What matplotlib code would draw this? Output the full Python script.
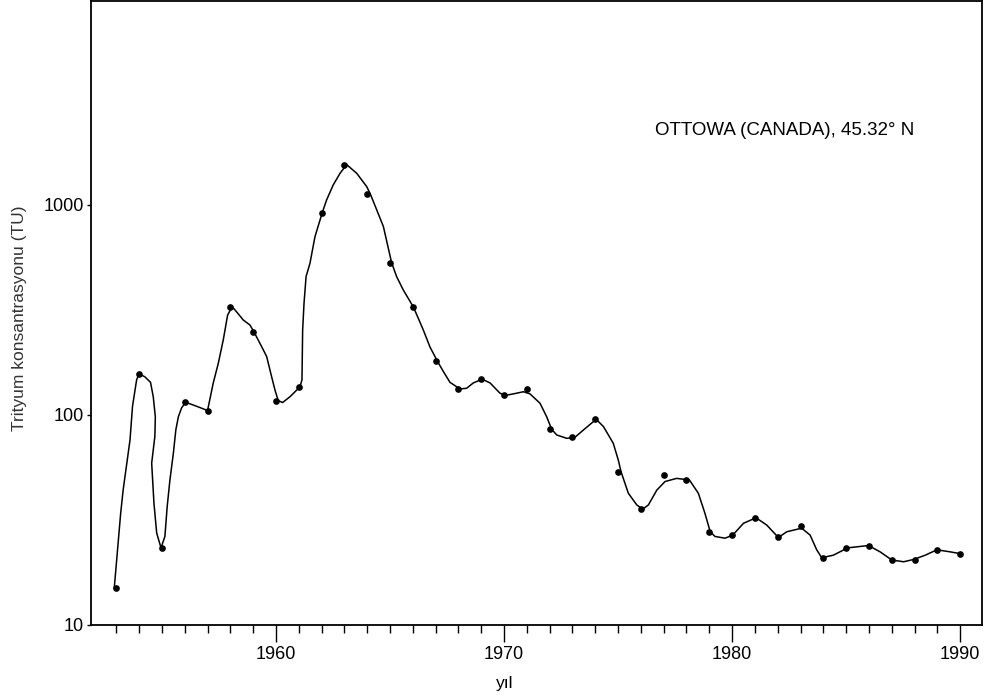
import numpy as np
import matplotlib
matplotlib.use('Agg')
import matplotlib.pyplot as plt
from matplotlib.ticker import FixedLocator, NullLocator, FixedFormatter

plt.rcParams['font.family'] = ['Liberation Sans', 'DejaVu Sans']

# yearly measurements (dots)
years = list(range(1953, 1991))
tritium = [15.0, 157, 23.3, 115, 105, 328, 248, 117, 136, 919,
           1556, 1125, 531, 326, 181, 133, 148, 124, 133, 85.5,
           78.3, 95.4, 53.7, 35.6, 51.6, 49, 27.8, 26.8, 32.4, 26.1,
           29.6, 20.9, 23.3, 23.9, 20.4, 20.5, 22.8, 21.8]

# fitted curve
curve_x = [1952.91, 1953.19, 1953.30, 1953.60, 1953.71, 1953.89, 1954.0, 1954.25,
           1954.50, 1954.62, 1954.71, 1954.69, 1954.55, 1954.65, 1954.77, 1954.96,
           1955.13, 1955.23, 1955.35, 1955.50, 1955.61, 1955.72, 1955.86, 1956.04,
           1956.52, 1957.0, 1957.25, 1957.47, 1957.69, 1957.88, 1958.08, 1958.27,
           1958.57, 1958.86, 1959.04, 1959.30, 1959.59, 1959.81, 1959.96, 1960.1,
           1960.29, 1960.61, 1961.05, 1961.14, 1961.17, 1961.23, 1961.32, 1961.49,
           1961.71, 1962.03, 1962.22, 1962.51, 1962.81, 1963.10, 1963.54, 1963.98,
           1964.14, 1964.42, 1964.71, 1965.07, 1965.29, 1965.58, 1966.03, 1966.46,
           1966.75, 1967.07, 1967.34, 1967.63, 1968.07, 1968.36, 1968.65, 1969.04,
           1969.39, 1969.82, 1970.07, 1970.41, 1970.85, 1971.14, 1971.58, 1971.87,
           1972.09, 1972.31, 1972.75, 1973.11, 1973.48, 1974.04, 1974.36, 1974.79,
           1975.01, 1975.13, 1975.45, 1975.82, 1976.08, 1976.33, 1976.70, 1977.06,
           1977.57, 1978.13, 1978.52, 1978.81, 1979.04, 1979.25, 1979.69, 1980.03,
           1980.50, 1981.05, 1981.52, 1982.03, 1982.40, 1983.05, 1983.42, 1983.71,
           1983.93, 1984.44, 1985.07, 1985.98, 1986.49, 1987.0, 1987.52, 1987.95,
           1988.47, 1988.98, 1989.56, 1990.07]
curve_y = [15.0, 34.0, 44.0, 76, 110, 147, 157, 152,
           143, 122, 98, 79, 59, 38, 27.4, 23.3,
           26.4, 36.6, 49, 65.6, 85, 98, 108, 115,
           110, 105, 142, 176, 228, 299, 328, 310,
           283, 268, 248, 219, 190, 152, 131, 117,
           114.6, 122, 136, 147, 254, 340, 456, 527,
           706, 919, 1056, 1245, 1415, 1556, 1415, 1222,
           1125, 946, 789, 531, 456, 394, 326, 254,
           211, 181, 161, 143, 133, 134, 142, 148,
           142, 127, 124, 126, 129, 126, 113.6, 98,
           85.5, 80.3, 77.4, 78.3, 84.8, 95.4, 88, 73.3,
           61, 53.7, 42.4, 37.3, 35.6, 37.3, 43.9, 48.2,
           49.9, 49, 42.4, 34, 27.8, 26.4, 25.9, 26.8,
           30.5, 32.4, 29.9, 26.1, 27.8, 28.9, 26.8, 22.8,
           20.9, 21.5, 23.3, 23.9, 22.3, 20.4, 20.0, 20.5,
           21.5, 22.8, 22.3, 21.8]

major_years = [1960, 1970, 1980, 1990]
minor_years = [y for y in range(1953, 1991) if y not in major_years]

fig = plt.figure(figsize=(9.86, 6.97), dpi=100)
ax = fig.add_axes([0.0923, 0.1033, 0.9037, 0.8953])

ax.plot(curve_x, curve_y, color='black', lw=1.1)
ax.plot(years, tritium, 'o', color='black', ms=3.8)

ax.set_yscale('log')
ax.set_xlim(1951.89, 1990.96)
ax.set_ylim(10, 9356)

ax.xaxis.set_major_locator(FixedLocator(major_years))
ax.xaxis.set_minor_locator(FixedLocator(minor_years))
ax.yaxis.set_major_locator(FixedLocator([10, 100, 1000]))
ax.yaxis.set_major_formatter(FixedFormatter(['10', '100', '1000']))
ax.yaxis.set_minor_locator(NullLocator())

ax.tick_params(axis='x', which='major', length=12, width=1, labelsize=13, pad=3)
ax.tick_params(axis='x', which='minor', length=6, width=1)
ax.tick_params(axis='y', which='major', length=3, width=1, labelsize=13, pad=2)
for s in ax.spines.values():
    s.set_linewidth(1.3)

ax.text(1982.3, 2250, 'OTTOWA (CANADA), 45.32\u00b0 N', ha='center', va='center',
        fontsize=13.5)

fig.text(0.020, 0.544, 'Trityum konsantrasyonu (TU)', rotation=90, ha='center',
         va='center', fontsize=12.5, color='#333333')
fig.text(0.512, 0.02, 'y\u0131l', ha='center', va='center', fontsize=12.5)

plt.savefig('out.png', dpi=100)
